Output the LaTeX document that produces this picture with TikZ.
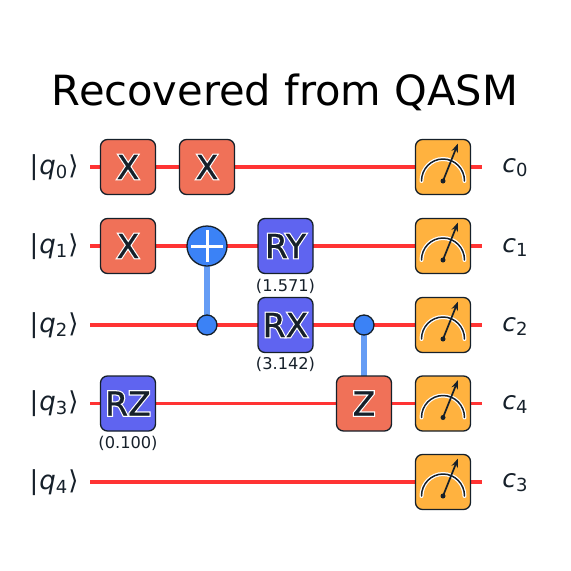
\documentclass[tikz,border=0pt]{standalone}
\usepackage{fontspec}
\setmainfont{DejaVu Sans}
\newfontfamily\haloface[FakeBold=8]{DejaVu Sans}
\newfontfamily\inkface[FakeBold=0.6]{DejaVu Sans}
\newfontfamily\obl{DejaVu Sans Oblique}
\usetikzlibrary{arrows.meta}
\definecolor{wirered}{HTML}{FF3333}
\definecolor{gatered}{HTML}{F07158}
\definecolor{gateblue}{HTML}{5F64F0}
\definecolor{meterorange}{HTML}{FFB23F}
\definecolor{ctrlblue}{HTML}{3B82F6}
\definecolor{linkblue}{HTML}{659CF5}
\definecolor{ink}{HTML}{16202A}
\newcommand{\halotext}[1]{\makebox[0pt][l]{\color{white}\haloface #1}{\inkface #1}}
\newcommand{\ket}[1]{{\fontsize{26}{26}\selectfont |\kern1pt{\obl q}\raisebox{-4pt}{\fontsize{18}{18}\selectfont #1}\kern1pt\char"27E9}}
\newcommand{\cbit}[1]{{\fontsize{25}{25}\selectfont{\obl c}\raisebox{-4pt}{\fontsize{18}{18}\selectfont #1}}}
\tikzset{
  wire/.style={draw=wirered,line width=3.2pt},
  link/.style={draw=linkblue,line width=6pt},
  gatebox/.style={draw=ink,line width=1.3pt,rounded corners=7pt,minimum width=55pt,minimum height=55pt,inner sep=0pt,text=ink,font=\fontsize{33}{33}\selectfont},
  redgate/.style={gatebox,fill=gatered},
  bluegate/.style={gatebox,fill=gateblue},
  metergate/.style={gatebox,fill=meterorange},
  ctrl/.style={circle,draw=ink,line width=1.3pt,fill=ctrlblue,minimum size=20pt,inner sep=0pt},
  target/.style={circle,draw=ink,line width=1.3pt,fill=ctrlblue,minimum size=40pt,inner sep=0pt},
  plusbar/.style={draw=white,line width=3pt},
  param/.style={font=\fontsize{16.2}{16.2}\selectfont,text=ink,inner sep=0pt},
  qlabel/.style={inner sep=0pt,text=ink,anchor=center}
}
\begin{document}
\begin{tikzpicture}[x=1pt,y=-1pt]
\useasboundingbox (0,0) rectangle (571,571);
\fill[white] (0,0) rectangle (571,571);
\node[inner sep=0pt,text=black,font=\fontsize{41.6}{41.6}\selectfont] (title) at (285,92) {Recovered from QASM};
% wire ends
\foreach \i/\y in {0/167,1/246,2/325,3/403.5,4/482}{
  \coordinate (L\i) at (90,\y);
  \coordinate (R\i) at (482,\y);
  \draw[wire] (L\i) -- (R\i);
}
% labels
\node[qlabel] (q0) at (54,167.5) {\ket{0}};
\node[qlabel] (q1) at (54,246.5) {\ket{1}};
\node[qlabel] (q2) at (54,325.5) {\ket{2}};
\node[qlabel] (q3) at (54,404) {\ket{3}};
\node[qlabel] (q4) at (54,482.5) {\ket{4}};
\node[qlabel] (c0) at (515,168) {\cbit{0}};
\node[qlabel] (c1) at (515,247) {\cbit{1}};
\node[qlabel] (c2) at (515,326) {\cbit{2}};
\node[qlabel] (c4) at (515,404.5) {\cbit{4}};
\node[qlabel] (c3) at (515,483) {\cbit{3}};
% links
\coordinate (A) at (207,246);
\coordinate (B) at (207,325);
\coordinate (C) at (364,325);
\coordinate (D) at (364,403.5);
\draw[link] (A) -- (B);
\draw[link] (C) -- (D);
% gates
\node[redgate] (x0) at (128,167) {\halotext{X}};
\node[redgate] (x1) at (207,167) {\halotext{X}};
\node[redgate] (x2) at (128,246) {\halotext{X}};
\node[target] (t) at (A) {};
\coordinate (pw) at (191,246);
\coordinate (pe) at (223,246);
\coordinate (pn) at (207,230);
\coordinate (ps) at (207,262);
\draw[plusbar] (pw) -- (pe) (pn) -- (ps);
\node[ctrl] (cc) at (B) {};
\node[bluegate] (ry) at (285.5,246) {\halotext{RY}};
\node[param] (pry) at (285.5,286) {(1.571)};
\node[bluegate] (rx) at (285.5,325) {\halotext{RX}};
\node[param] (prx) at (285.5,364.5) {(3.142)};
\node[bluegate] (rz) at (128,403.5) {\halotext{RZ}};
\node[param] (prz) at (128,443) {(0.100)};
\node[ctrl] (cz) at (C) {};
\node[redgate] (z) at (D) {\halotext{Z}};
% meters
\foreach \n/\y in {m0/167,m1/246,m2/325,m3/403.5,m4/482}{
  \node[metergate] (\n) at (443,\y) {};
  \begin{scope}[shift={(\n.center)}]
    \draw[white,line width=4pt,line cap=round] (-21.5,14) arc[start angle=180,end angle=0,x radius=21.5,y radius=-22];
    \draw[ink,line width=1.5pt,line cap=round] (-21.5,14) arc[start angle=180,end angle=0,x radius=21.5,y radius=-22];
    \draw[ink,line width=1.7pt,-{Stealth[length=9pt,width=6.5pt]}] (0,14) -- (15,-23.5);
    \fill[ink] (0,14) circle (2.5);
  \end{scope}
}
\end{tikzpicture}
\end{document}
